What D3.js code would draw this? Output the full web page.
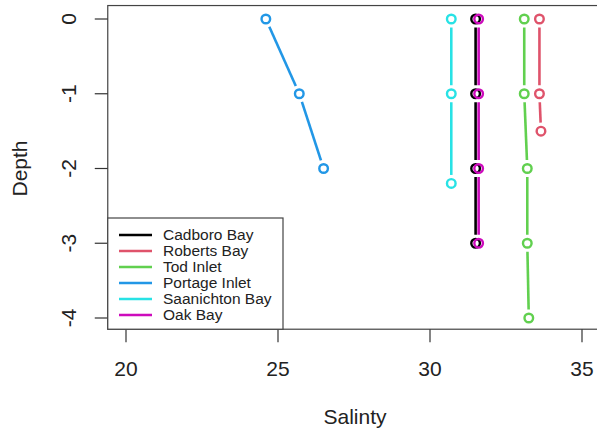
<!DOCTYPE html>
<html>
<head>
<meta charset="utf-8">
<script src="https://cdn.jsdelivr.net/npm/d3@7"></script>
<style>
  html, body { margin: 0; padding: 0; background: #fff; }
  svg { display: block; font-family: "Liberation Sans", Arial, sans-serif; }
</style>
</head>
<body>
<svg id="chart" width="597" height="435"></svg>
<script>
// Salinity profiles by site
const sites = ["Cadboro Bay", "Roberts Bay", "Tod Inlet", "Portage Inlet", "Saanichton Bay", "Oak Bay"];
const colors = ["#000000", "#DF536B", "#61D04F", "#2297E6", "#28E2E5", "#CD0BBC"];

const cadboroSalinity = [31.5, 31.5, 31.5, 31.5];
const cadboroDepth    = [0, -1, -2, -3];
const robertsSalinity = [33.6, 33.6, 33.65];
const robertsDepth    = [0, -1, -1.5];
const todSalinity     = [33.1, 33.1, 33.2, 33.2, 33.25];
const todDepth        = [0, -1, -2, -3, -4];
const portageSalinity = [24.6, 25.7, 26.5];
const portageDepth    = [0, -1, -2];
const saanichSalinity = [30.7, 30.7, 30.7];
const saanichDepth    = [0, -1, -2.2];
const oakSalinity     = [31.6, 31.6, 31.6, 31.6];
const oakDepth        = [0, -1, -2, -3];

const xTicks = [20, 25, 30, 35];
const yTicks = [0, -1, -2, -3, -4];

const series = [
  [cadboroSalinity, cadboroDepth],
  [robertsSalinity, robertsDepth],
  [todSalinity, todDepth],
  [portageSalinity, portageDepth],
  [saanichSalinity, saanichDepth],
  [oakSalinity, oakDepth]
].map((s, i) => ({
  name: sites[i],
  color: colors[i],
  pts: s[0].map((v, j) => ({ x: v, y: s[1][j] }))
}));

const svg = d3.select("#chart");
const x = d3.scaleLinear().domain([20, 35]).range([126, 582]);
const y = d3.scaleLinear().domain([0, -4]).range([19, 318]);

const xMin = 19.4, xMax = 35.6, yMax = 0.18, yMin = -4.15;
const frameL = x(xMin), frameR = x(xMax), frameT = y(yMax), frameB = y(yMin);

// plot frame
svg.append("rect")
  .attr("x", frameL).attr("y", frameT)
  .attr("width", frameR - frameL).attr("height", frameB - frameT)
  .attr("fill", "none").attr("stroke", "#444").attr("stroke-width", 1.2);

// x axis
const xAxis = svg.append("g");
xAxis.selectAll("line").data(xTicks).join("line")
  .attr("x1", d => x(d)).attr("x2", d => x(d))
  .attr("y1", frameB).attr("y2", frameB + 13)
  .attr("stroke", "#333").attr("stroke-width", 1.2);
xAxis.selectAll("text").data(xTicks).join("text")
  .attr("x", d => x(d)).attr("y", 376)
  .attr("text-anchor", "middle")
  .attr("font-size", 21).attr("fill", "#222")
  .text(d => d);

// y axis
const yAxis = svg.append("g");
yAxis.selectAll("line").data(yTicks).join("line")
  .attr("x1", frameL - 13).attr("x2", frameL)
  .attr("y1", d => y(d)).attr("y2", d => y(d))
  .attr("stroke", "#333").attr("stroke-width", 1.2);
yAxis.selectAll("text").data(yTicks).join("text")
  .attr("transform", d => `translate(76,${y(d)}) rotate(-90)`)
  .attr("text-anchor", "middle")
  .attr("font-size", 21).attr("fill", "#222")
  .text(d => d === 0 ? "0" : "-" + Math.abs(d));

// axis titles
svg.append("text")
  .attr("x", 355).attr("y", 424)
  .attr("text-anchor", "middle")
  .attr("font-size", 21).attr("fill", "#222")
  .text("Salinty");
svg.append("text")
  .attr("transform", `translate(27,${(y(0) + y(-4)) / 2}) rotate(-90)`)
  .attr("text-anchor", "middle")
  .attr("font-size", 21).attr("fill", "#222")
  .text("Depth");

// lines with gaps around the points, then open circles
const gap = 8.5;
const r = 4.3;
series.forEach(s => {
  const g = svg.append("g");
  const segs = d3.pairs(s.pts).map(([a, b]) => {
    const x1 = x(a.x), y1 = y(a.y), x2 = x(b.x), y2 = y(b.y);
    const len = Math.hypot(x2 - x1, y2 - y1);
    const ux = (x2 - x1) / len, uy = (y2 - y1) / len;
    return { x1: x1 + ux * gap, y1: y1 + uy * gap, x2: x2 - ux * gap, y2: y2 - uy * gap };
  });
  g.selectAll("line").data(segs).join("line")
    .attr("x1", d => d.x1).attr("y1", d => d.y1)
    .attr("x2", d => d.x2).attr("y2", d => d.y2)
    .attr("stroke", s.color).attr("stroke-width", 2.6);
  g.selectAll("circle").data(s.pts).join("circle")
    .attr("cx", d => x(d.x)).attr("cy", d => y(d.y)).attr("r", r)
    .attr("fill", "none").attr("stroke", s.color).attr("stroke-width", 2.4);
});

// legend
const lg = svg.append("g");
lg.append("rect")
  .attr("x", frameL).attr("y", 218)
  .attr("width", 283 - frameL).attr("height", frameB - 218)
  .attr("fill", "#fff").attr("stroke", "#444").attr("stroke-width", 1.2);
const rows = lg.selectAll("g.row").data(series).join("g")
  .attr("transform", (d, i) => `translate(0,${235 + i * 16})`);
rows.append("line")
  .attr("x1", 119).attr("x2", 152)
  .attr("stroke", d => d.color).attr("stroke-width", 2.6);
rows.append("text")
  .attr("x", 163).attr("y", 5)
  .attr("font-size", 15.5).attr("fill", "#222")
  .text(d => d.name);
</script>
</body>
</html>
